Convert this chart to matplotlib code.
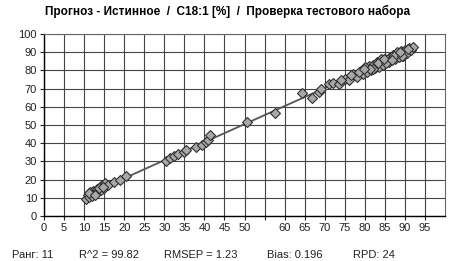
import numpy as np
import matplotlib.pyplot as plt

plt.rcParams['font.family'] = ['Liberation Sans', 'DejaVu Sans']

# reference (true) values and predicted values, C18:1 [%]
true_vals = [10.5, 11.0, 11.2, 11.5, 11.8, 12.0, 12.3, 12.5, 13.0, 13.2,
             13.5, 14.0, 14.2, 14.5, 15.0, 15.3, 16.0, 17.5, 19.0, 20.5,
             11.3, 12.8, 13.8, 14.8,
             30.5, 31.5, 32.5, 33.5, 35.0, 35.5, 38.0, 39.5, 40.5, 41.0,
             41.5, 50.5, 57.5,
             64.3, 66.8, 68.5, 69.0, 71.0, 72.0, 73.5, 75.0, 76.0, 77.0,
             78.0, 79.0, 79.5, 80.0, 80.5, 81.0, 81.5, 82.0, 82.5, 83.0,
             83.5, 84.0, 84.5, 85.0, 85.5, 86.0, 86.5, 87.0, 87.5, 88.0,
             88.5, 89.0, 89.5, 90.0, 90.5, 91.0, 91.5, 92.0, 84.0, 86.0,
             88.0, 80.0, 82.0, 76.5, 78.5, 81.2, 83.2, 85.2, 87.2, 89.2,
             90.8, 84.8, 86.8, 88.8, 79.8, 74.0]
pred_vals = [9.5, 11.5, 10.5, 13.0, 12.0, 11.0, 14.0, 12.5, 13.5, 15.0,
             14.0, 16.0, 14.5, 17.0, 15.5, 18.0, 17.0, 18.5, 20.0, 22.0,
             12.5, 11.8, 15.5, 16.0,
             30.0, 32.0, 33.0, 34.0, 35.0, 36.5, 38.0, 39.0, 40.5, 42.0,
             44.5, 51.5, 56.5,
             67.5, 65.0, 68.0, 70.0, 72.5, 73.0, 72.5, 75.5, 75.0, 78.0,
             76.5, 79.5, 78.0, 81.5, 79.0, 82.5, 80.0, 83.0, 81.5, 84.5,
             82.0, 85.5, 83.0, 86.5, 84.5, 87.0, 85.5, 88.5, 86.0, 89.0,
             87.5, 90.5, 88.0, 91.0, 89.5, 92.5, 91.0, 93.0, 86.0, 84.5,
             90.0, 82.0, 80.5, 77.5, 79.0, 80.5, 84.0, 84.0, 88.0, 88.0,
             92.0, 86.5, 85.5, 90.0, 81.0, 75.0]

x_ticks = list(range(0, 100, 5))
x_labels = [str(t) if t != 55 else '' for t in x_ticks]
y_ticks = list(range(0, 101, 10))

stats_text = ['Ранг: 11', 'R^2 = 99.82', 'RMSEP = 1.23', 'Bias: 0.196', 'RPD: 24']

fig = plt.figure(figsize=(4.55, 2.61), dpi=100)
ax = fig.add_axes([44/455, 45/261, 401/455, 182/261])

ax.set_xlim(0, 100)
ax.set_ylim(0, 100)
ax.set_xticks(x_ticks)
ax.set_xticklabels(x_labels)
ax.set_yticks(y_ticks)
ax.grid(True, color='#444444', linewidth=0.8)
ax.set_axisbelow(True)
ax.tick_params(labelsize=8, length=3, width=0.8, colors='#222222', pad=2)
for side in ['top', 'right']:
    ax.spines[side].set_color('#666666')
    ax.spines[side].set_linewidth(0.8)
for side in ['left', 'bottom']:
    ax.spines[side].set_color('black')
    ax.spines[side].set_linewidth(1.0)

# regression line over the data range
k, b = np.polyfit(true_vals, pred_vals, 1)
xl = np.array([min(true_vals), max(true_vals)])
ax.plot(xl, k*xl + b, color='#555555', linewidth=1.3, zorder=2)

ax.plot(true_vals, pred_vals, linestyle='none', marker='D', markersize=5.5,
        markerfacecolor='#a8a8a8', markeredgecolor='#303030',
        markeredgewidth=0.8, zorder=3)

fig.text(0.5, 1 - 11/261, 'Прогноз - Истинное  /  C18:1 [%]  /  Проверка тестового набора',
         ha='center', va='center', fontsize=8.5, fontweight='bold')

xs = [12, 79, 164, 267, 353]
for xp, s in zip(xs, stats_text):
    fig.text(xp/455, 1 - 255/261, s, ha='left', va='center', fontsize=8, color='#222222')

fig.savefig('out.png', dpi=100)
